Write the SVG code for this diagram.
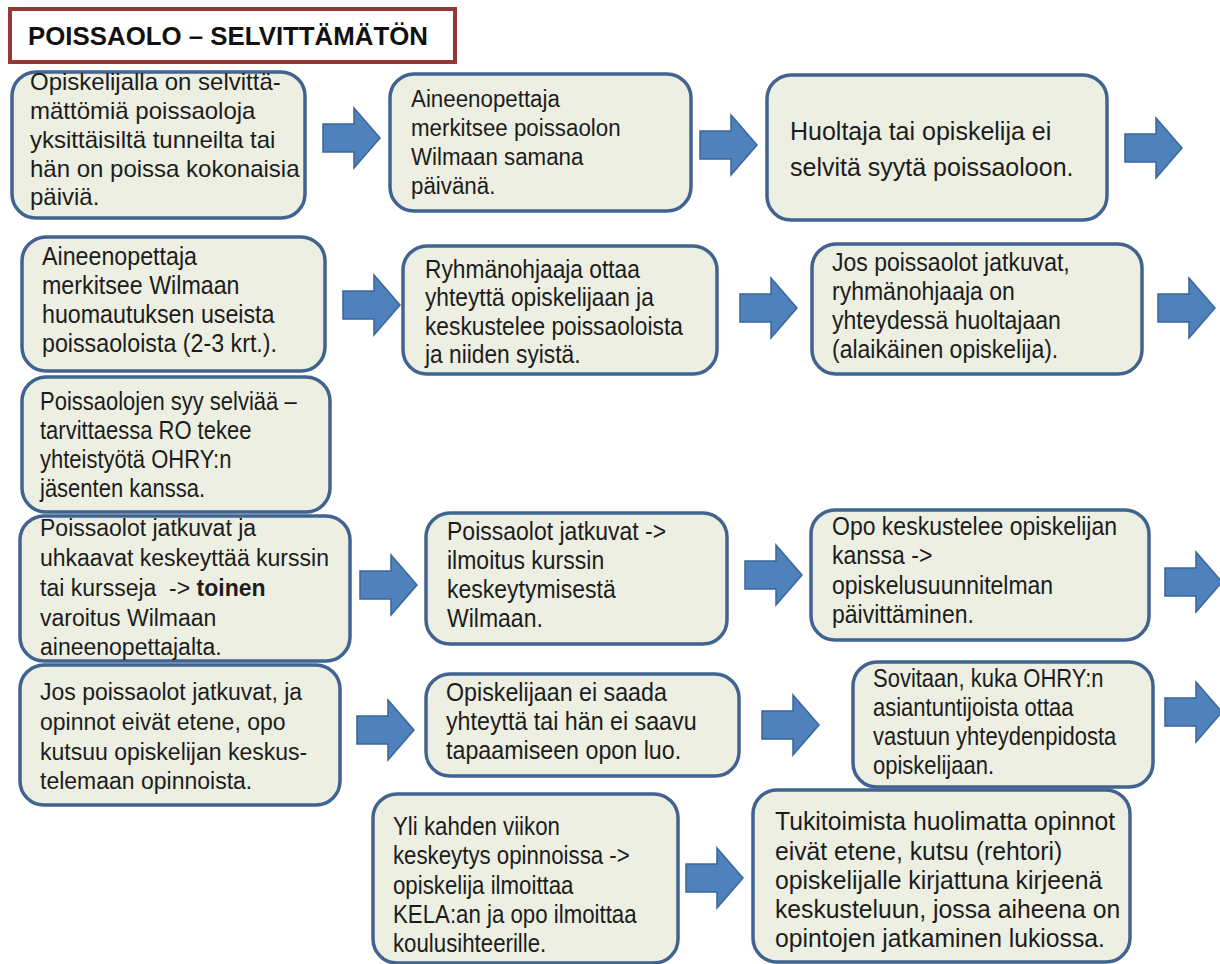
<svg xmlns="http://www.w3.org/2000/svg" width="1220" height="964" viewBox="0 0 1220 964">
<style>
.box{fill:#ecefe1;stroke:#41638f;stroke-width:3.5}
.t{font-family:"Liberation Sans",Arial,sans-serif;fill:#1c1c1c}
.arr{fill:#4f81bd;stroke:#3a6699;stroke-width:1.5}
.title{font-family:"Liberation Sans",Arial,sans-serif;font-weight:bold;font-size:25.5px;fill:#111}
</style>
<defs>
<path id="arrow" class="arr" d="M0,-14 H31 V-30 L57,0 L31,30 V14 H0 Z"/>
</defs>
<rect width="1220" height="964" fill="#ffffff"/>

<g id="title">
<rect x="10" y="9" width="445" height="53" fill="#ffffff" stroke="#953735" stroke-width="4"/>
<text class="title" x="28" y="45" textLength="400" lengthAdjust="spacingAndGlyphs">POISSAOLO – SELVITTÄMÄTÖN</text>
</g>

<g id="connectors">
<use href="#arrow" x="323" y="138"/>
<use href="#arrow" x="700" y="145"/>
<use href="#arrow" x="1125" y="148"/>
<use href="#arrow" x="343" y="305"/>
<use href="#arrow" x="740" y="308"/>
<use href="#arrow" x="1158" y="308"/>
<use href="#arrow" x="360" y="585"/>
<use href="#arrow" x="745" y="575"/>
<use href="#arrow" x="1165" y="582"/>
<use href="#arrow" x="357" y="730"/>
<use href="#arrow" x="762" y="725"/>
<use href="#arrow" x="1165" y="712"/>
<use href="#arrow" x="686" y="878"/>
</g>

<g id="n1">
<rect class="box" x="12" y="72" width="293" height="146" rx="24"/>
<g class="t" font-size="24" transform="translate(30 0)">
<text x="0" y="90">Opiskelijalla on selvittä-</text>
<text x="0" y="119">mättömiä poissaoloja</text>
<text x="0" y="148">yksittäisiltä tunneilta tai</text>
<text x="0" y="177">hän on poissa kokonaisia</text>
<text x="0" y="205">päiviä.</text>
</g>
</g>

<g id="n2">
<rect class="box" x="390" y="74" width="301" height="137" rx="24"/>
<g class="t" font-size="23.5" transform="translate(411 0) scale(0.95 1)">
<text x="0" y="107">Aineenopettaja</text>
<text x="0" y="136">merkitsee poissaolon</text>
<text x="0" y="165">Wilmaan samana</text>
<text x="0" y="194">päivänä.</text>
</g>
</g>

<g id="n3">
<rect class="box" x="767" y="75" width="340" height="145" rx="24"/>
<g class="t" font-size="25" transform="translate(790 0)">
<text x="0" y="140">Huoltaja tai opiskelija ei</text>
<text x="0" y="176">selvitä syytä poissaoloon.</text>
</g>
</g>

<g id="n4">
<rect class="box" x="22" y="237" width="303" height="134" rx="24"/>
<g class="t" font-size="25" transform="translate(42 0) scale(0.93 1)">
<text x="0" y="265">Aineenopettaja</text>
<text x="0" y="294">merkitsee Wilmaan</text>
<text x="0" y="323">huomautuksen useista</text>
<text x="0" y="352">poissaoloista (2-3 krt.).</text>
</g>
</g>

<g id="n5">
<rect class="box" x="403" y="246" width="314" height="128" rx="24"/>
<g class="t" font-size="25" transform="translate(425 0) scale(0.91 1)">
<text x="0" y="278">Ryhmänohjaaja ottaa</text>
<text x="0" y="306">yhteyttä opiskelijaan ja</text>
<text x="0" y="335">keskustelee poissaoloista</text>
<text x="0" y="363">ja niiden syistä.</text>
</g>
</g>

<g id="n6">
<rect class="box" x="812" y="244" width="330" height="130" rx="24"/>
<g class="t" font-size="25" transform="translate(832 0) scale(0.92 1)">
<text x="0" y="271">Jos poissaolot jatkuvat,</text>
<text x="0" y="300">ryhmänohjaaja on</text>
<text x="0" y="329">yhteydessä huoltajaan</text>
<text x="0" y="358">(alaikäinen opiskelija).</text>
</g>
</g>

<g id="n7">
<rect class="box" x="22" y="377" width="308" height="135" rx="24"/>
<g class="t" font-size="25" transform="translate(40 0) scale(0.88 1)">
<text x="0" y="410">Poissaolojen syy selviää –</text>
<text x="0" y="439">tarvittaessa RO tekee</text>
<text x="0" y="468">yhteistyötä OHRY:n</text>
<text x="0" y="497">jäsenten kanssa.</text>
</g>
</g>

<g id="n8">
<rect class="box" x="20" y="516" width="330" height="145" rx="24"/>
<g class="t" font-size="23" transform="translate(40 0)">
<text x="0" y="536">Poissaolot jatkuvat ja</text>
<text x="0" y="566">uhkaavat keskeyttää kurssin</text>
<text x="0" y="596" xml:space="preserve">tai kursseja  -&gt; <tspan font-weight="bold">toinen</tspan></text>
<text x="0" y="626">varoitus Wilmaan</text>
<text x="0" y="655">aineenopettajalta.</text>
</g>
</g>

<g id="n9">
<rect class="box" x="426" y="513" width="301" height="131" rx="24"/>
<g class="t" font-size="25" transform="translate(447 0) scale(0.92 1)">
<text x="0" y="540">Poissaolot jatkuvat -&gt;</text>
<text x="0" y="569">ilmoitus kurssin</text>
<text x="0" y="598">keskeytymisestä</text>
<text x="0" y="627">Wilmaan.</text>
</g>
</g>

<g id="n10">
<rect class="box" x="811" y="510" width="338" height="130" rx="24"/>
<g class="t" font-size="25" transform="translate(832 0) scale(0.92 1)">
<text x="0" y="535">Opo keskustelee opiskelijan</text>
<text x="0" y="564">kanssa -&gt;</text>
<text x="0" y="594">opiskelusuunnitelman</text>
<text x="0" y="623">päivittäminen.</text>
</g>
</g>

<g id="n11">
<rect class="box" x="20" y="665" width="320" height="140" rx="24"/>
<g class="t" font-size="23" transform="translate(40 0)">
<text x="0" y="700">Jos poissaolot jatkuvat, ja</text>
<text x="0" y="730">opinnot eivät etene, opo</text>
<text x="0" y="760">kutsuu opiskelijan keskus-</text>
<text x="0" y="789">telemaan opinnoista.</text>
</g>
</g>

<g id="n12">
<rect class="box" x="426" y="674" width="313" height="102" rx="24"/>
<g class="t" font-size="25" transform="translate(446 0) scale(0.93 1)">
<text x="0" y="701">Opiskelijaan ei saada</text>
<text x="0" y="730">yhteyttä tai hän ei saavu</text>
<text x="0" y="759">tapaamiseen opon luo.</text>
</g>
</g>

<g id="n13">
<rect class="box" x="853" y="662" width="300" height="125" rx="24"/>
<g class="t" font-size="25" transform="translate(873 0) scale(0.88 1)">
<text x="0" y="687">Sovitaan, kuka OHRY:n</text>
<text x="0" y="716">asiantuntijoista ottaa</text>
<text x="0" y="745">vastuun yhteydenpidosta</text>
<text x="0" y="774">opiskelijaan.</text>
</g>
</g>

<g id="n14">
<rect class="box" x="373" y="794" width="305" height="169" rx="24"/>
<g class="t" font-size="25" transform="translate(393 0) scale(0.89 1)">
<text x="0" y="835">Yli kahden viikon</text>
<text x="0" y="864">keskeytys opinnoissa -&gt;</text>
<text x="0" y="894">opiskelija ilmoittaa</text>
<text x="0" y="923">KELA:an ja opo ilmoittaa</text>
<text x="0" y="952">koulusihteerille.</text>
</g>
</g>

<g id="n15">
<rect class="box" x="753" y="790" width="377" height="172" rx="24"/>
<g class="t" font-size="25" transform="translate(775 0) scale(0.99 1)">
<text x="0" y="830">Tukitoimista huolimatta opinnot</text>
<text x="0" y="860">eivät etene, kutsu (rehtori)</text>
<text x="0" y="889">opiskelijalle kirjattuna kirjeenä</text>
<text x="0" y="918">keskusteluun, jossa aiheena on</text>
<text x="0" y="947">opintojen jatkaminen lukiossa.</text>
</g>
</g>
</svg>
